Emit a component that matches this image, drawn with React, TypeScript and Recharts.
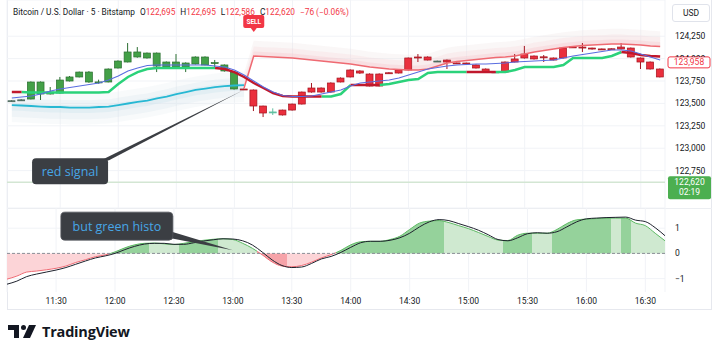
import React from 'react';
import { ComposedChart, Bar, Line, Area, XAxis, YAxis, CartesianGrid, ReferenceLine, ReferenceDot } from 'recharts';

// 5 minute bars, 11:05 .. 16:40
const times = [
  '11:05', '11:10', '11:15', '11:20', '11:25', '11:30', '11:35', '11:40', '11:45', '11:50', '11:55', '12:00',
  '12:05', '12:10', '12:15', '12:20', '12:25', '12:30', '12:35', '12:40', '12:45', '12:50', '12:55', '13:00',
  '13:05', '13:10', '13:15', '13:20', '13:25', '13:30', '13:35', '13:40', '13:45', '13:50', '13:55', '14:00',
  '14:05', '14:10', '14:15', '14:20', '14:25', '14:30', '14:35', '14:40', '14:45', '14:50', '14:55', '15:00',
  '15:05', '15:10', '15:15', '15:20', '15:25', '15:30', '15:35', '15:40', '15:45', '15:50', '15:55', '16:00',
  '16:05', '16:10', '16:15', '16:20', '16:25', '16:30', '16:35', '16:40',
];
const timeTicks = ['11:30', '12:00', '12:30', '13:00', '13:30', '14:00', '14:30', '15:00', '15:30', '16:00', '16:30'];

const opens = [
  123530, 123535, 123549, 123739, 123605, 123616, 123750, 123795, 123850, 123740,
  123739, 123895, 123962, 124074, 124007, 124062, 123906, 123962, 123906, 123940,
  124018, 123955, 123929, 123850, 123661, 123650, 123471, 123400, 123371, 123426,
  123493, 123627, 123672, 123627, 123739, 123795, 123862, 123828, 123694, 123842,
  123839, 123873, 124018, 124018, 123973, 123984, 123952, 123951, 123929, 123884,
  123852, 123850, 123962, 124007, 124029, 124020, 124007, 124007, 124131, 124129,
  124118, 124108, 124110, 124107, 124118, 124007, 123962, 123884,
];
const highs = [
  123535, 123548, 123745, 123745, 123683, 123795, 123806, 123855, 123860, 123765,
  123890, 123980, 124174, 124129, 124068, 124068, 123968, 124051, 123958, 124025,
  124025, 123985, 123935, 123855, 123665, 123655, 123475, 123445, 123430, 123498,
  123632, 123728, 123678, 123735, 123790, 123880, 123870, 123835, 123835, 123848,
  123880, 124012, 124051, 124025, 123978, 123990, 123955, 123955, 123935, 123890,
  123856, 123968, 124051, 124141, 124035, 124040, 124012, 124124, 124135, 124174,
  124122, 124112, 124114, 124174, 124124, 124012, 123968, 123890,
];
const lows = [
  123520, 123530, 123545, 123538, 123600, 123610, 123745, 123790, 123730, 123720,
  123735, 123890, 123958, 124010, 124000, 123850, 123900, 123900, 123850, 123935,
  123925, 123906, 123855, 123655, 123650, 123415, 123348, 123371, 123365, 123420,
  123488, 123620, 123620, 123620, 123735, 123790, 123830, 123690, 123690, 123833,
  123835, 123868, 123962, 123980, 123965, 123884, 123940, 123935, 123890, 123845,
  123840, 123845, 123958, 124000, 123990, 123962, 123980, 124000, 124122, 124074,
  124100, 124100, 124100, 124102, 124012, 123884, 123878, 123790,
];
const closes = [
  123525, 123540, 123739, 123605, 123627, 123761, 123795, 123850, 123739, 123735,
  123884, 123973, 124074, 124018, 124062, 123917, 123962, 123906, 123951, 124018,
  123929, 123950, 123862, 123661, 123655, 123471, 123393, 123405, 123426, 123493,
  123627, 123672, 123627, 123728, 123783, 123873, 123839, 123694, 123828, 123838,
  123873, 124007, 124014, 123984, 123970, 123962, 123948, 123940, 123895, 123850,
  123848, 123962, 123996, 124051, 123996, 124016, 123984, 124118, 124127, 124118,
  124107, 124105, 124106, 124129, 124018, 123962, 123884, 123795,
];
// candle colour comes from the signal, not from the bar direction
const candleTone = [
  'n', 'n', 'g', 'g', 'g', 'g', 'g', 'g', 'g', 'g', 'g', 'g', 'g', 'g', 'g', 'g', 'g', 'g', 'g', 'g', 'g', 'g', 'g', 'g',
  'r', 'r', 'r', 't', 'r', 'r', 'r', 'r', 'r', 'r', 'r', 'r', 'r', 'r', 'r', 'r', 'r', 'r', 'r', 'r', 'n', 'r', 'r', 'r',
  'r', 'r', 'n', 'r', 'r', 'r', 'r', 'r', 'r', 'r', 'r', 'r', 'r', 'r', 'r', 'r', 'r', 'r', 'r', 'r',
];

const upperBand = [
  null, null, null, null, null, null, null, null, null, null, null, null,
  null, null, null, null, null, null, null, null, null, null, null, null,
  123672, 124029, 124023, 124018, 124012, 124007, 123996, 123984, 123973, 123962, 123951, 123940,
  123923, 123906, 123895, 123884, 123878, 123873, 123873, 123884, 123917, 123951, 123968, 123979,
  123990, 124001, 124012, 124018, 124029, 124051, 124074, 124090, 124107, 124124, 124135, 124146,
  124152, 124157, 124163, 124163, 124157, 124152, 124141, 124135,
];
const lowerBand = [
  123482, 123477, 123471, 123465, 123460, 123460, 123454, 123454, 123454, 123460, 123465, 123482,
  123499, 123516, 123532, 123555, 123577, 123605, 123627, 123650, 123666, 123683, 123694, 123700,
  123705, null, null, null, null, null, null, null, null, null, null, null,
  null, null, null, null, null, null, null, null, null, null, null, null,
  null, null, null, null, null, null, null, null, null, null, null, null,
  null, null, null, null, null, null, null, null,
];
const trail = [
  123627, 123627, 123622, 123622, 123622, 123622, 123622, 123622, 123622, 123622, 123627, 123717,
  123795, 123850, 123884, 123895, 123895, 123895, 123895, 123895, 123895, 123895, 123884, 123850,
  123795, 123728, 123672, 123616, 123583, 123577, 123577, 123577, 123577, 123577, 123605, 123705,
  123705, 123705, 123705, 123717, 123739, 123761, 123772, 123839, 123850, 123850, 123850, 123850,
  123850, 123850, 123850, 123850, 123873, 123906, 123906, 123906, 123906, 123929, 124007, 124007,
  124007, 124007, 124029, 124074, 124062, 124040, 124029, 124023,
];
const trailTone = [
  'r', 'r', 'g', 'g', 'g', 'g', 'g', 'g', 'g', 'g', 'g', 'g', 'g', 'g', 'g', 'g', 'g', 'g', 'g', 'g', 'g', 'g', 'r', 'r',
  'r', 'r', 'r', 'r', 'r', 'r', 'r', 'r', 'r', 'g', 'g', 'g', 'r', 'r', 'r', 'g', 'g', 'g', 'g', 'g', 'g', 'g', 'g', 'g',
  'r', 'r', 'r', 'g', 'g', 'g', 'g', 'g', 'g', 'g', 'g', 'g', 'g', 'g', 'g', 'g', 'r', 'r', 'r', 'r',
];
const maLine = [
  123560, 123571, 123583, 123605, 123638, 123661, 123677, 123694, 123711, 123728, 123761, 123806,
  123862, 123895, 123923, 123929, 123929, 123929, 123929, 123929, 123929, 123917, 123906, 123873,
  123817, 123750, 123683, 123627, 123588, 123577, 123577, 123583, 123605, 123627, 123650, 123694,
  123728, 123739, 123750, 123761, 123783, 123817, 123850, 123884, 123901, 123917, 123929, 123934,
  123940, 123940, 123945, 123951, 123962, 123968, 123973, 123979, 123984, 124007, 124029, 124046,
  124062, 124079, 124096, 124096, 124085, 124051, 124018, 123984,
];
const priceTicks = [122750, 123000, 123250, 123500, 123750, 124000, 124250];

const histo = [
  -1.02, -0.9, -0.74, -0.7, -0.65, -0.59, -0.5, -0.36, -0.25, -0.13, -0.06, 0.06,
  0.22, 0.34, 0.4, 0.41, 0.38, 0.35, 0.4, 0.46, 0.52, 0.56, 0.58, 0.55,
  0.4, 0.2, -0.06, -0.34, -0.5, -0.53, -0.48, -0.35, -0.18, -0.05, 0.12, 0.34,
  0.46, 0.48, 0.48, 0.55, 0.68, 0.95, 1.2, 1.28, 1.3, 1.22, 1.1, 0.98,
  0.83, 0.67, 0.53, 0.51, 0.72, 0.8, 0.8, 0.8, 0.95, 1.18, 1.33, 1.36,
  1.38, 1.4, 1.4, 1.4, 1.2, 1.1, 0.8, 0.5,
];
const signal = [
  -1.22, -1.1, -0.92, -0.82, -0.74, -0.66, -0.56, -0.43, -0.3, -0.18, -0.1, 0.0,
  0.15, 0.28, 0.37, 0.4, 0.4, 0.36, 0.36, 0.42, 0.49, 0.54, 0.58, 0.57,
  0.5, 0.33, 0.05, -0.26, -0.48, -0.56, -0.54, -0.4, -0.22, -0.12, 0.04, 0.24,
  0.42, 0.48, 0.48, 0.52, 0.62, 0.8, 1.05, 1.25, 1.34, 1.3, 1.18, 1.06,
  0.92, 0.74, 0.55, 0.5, 0.62, 0.78, 0.82, 0.8, 0.86, 1.05, 1.25, 1.37,
  1.4, 1.42, 1.43, 1.44, 1.32, 1.26, 1.02, 0.7,
];
// G / R = growing, g / r = fading
const histoTone = [
  'r', 'r', 'r', 'r', 'r', 'r', 'r', 'r', 'r', 'r', 'r', 'G', 'G', 'G', 'G', 'g', 'g', 'g', 'G', 'G', 'G', 'G', 'g', 'g',
  'g', 'g', 'R', 'R', 'R', 'r', 'r', 'r', 'r', 'r', 'G', 'G', 'G', 'G', 'G', 'G', 'G', 'G', 'G', 'G', 'G', 'g', 'g', 'g',
  'g', 'g', 'g', 'G', 'G', 'G', 'g', 'g', 'G', 'G', 'G', 'G', 'G', 'G', 'g', 'G', 'g', 'g', 'g', 'g',
];
const histoTicks = [-1, 0, 1];

const candleColors: Record<string, { fill: string; edge: string }> = {
  g: { fill: '#43a047', edge: '#2b6e31' },
  r: { fill: '#ea2f3d', edge: '#a3141f' },
  n: { fill: '#4d6b5f', edge: '#4d6b5f' },
  t: { fill: '#5fbfa0', edge: '#5fbfa0' },
};
const shadeFill: Record<string, string> = { G: '#95d29b', g: '#cfe9d0', R: '#f6a3a9', r: '#fcd4d7' };
const shadeEdge: Record<string, string> = { G: '#5cb862', g: '#5cb862', R: '#ef6b74', r: '#ef6b74' };

const FONT = 'Roboto, "Noto Sans", sans-serif';
const axisTick = { fontSize: 8.5, fill: '#131722', fontFamily: FONT };

const priceRows = times.map((t, i) => {
  const u = upperBand[i];
  const lo = lowerBand[i];
  return {
    t,
    open: opens[i],
    high: highs[i],
    low: lows[i],
    close: closes[i],
    tone: candleTone[i],
    upper: u,
    lower: lo,
    ma: maLine[i],
    trailGreen: trailTone[i] === 'g' || trailTone[i + 1] === 'g' ? trail[i] : null,
    trailRed: trailTone[i] === 'r' || trailTone[i + 1] === 'r' ? trail[i] : null,
    glowUp1: u == null ? null : [u, u + 50],
    glowUp2: u == null ? null : [u, u + 105],
    glowUp3: u == null ? null : [u, u + 170],
    glowLo1: lo == null ? null : [lo - 60, lo + 25],
    glowLo2: lo == null ? null : [lo - 130, lo + 80],
    glowLo3: lo == null ? null : [lo - 190, lo + 150],
  };
});

const histoRows = times.map((t, i) => ({ t, histo: histo[i], signal: signal[i] }));

const last = times.length - 1;
const hardStops = (palette: Record<string, string>) =>
  histoTone.flatMap((tone, i) => [
    { offset: Math.max(0, (i - 0.5) / last), color: palette[tone] },
    { offset: Math.min(1, (i + 0.5) / last), color: palette[tone] },
  ]);

const Candle = (props: any) => {
  const { x, y, width, height, payload } = props;
  if (!payload) return null;
  const top = Math.min(y, y + height);
  const h = Math.abs(height);
  const k = h / (payload.high - payload.low);
  const bodyTop = top + (payload.high - Math.max(payload.open, payload.close)) * k;
  const bodyH = Math.max(1, Math.abs(payload.open - payload.close) * k);
  const c = candleColors[payload.tone];
  const mid = x + width / 2;
  return (
    <g>
      <line x1={mid} x2={mid} y1={top} y2={top + h} stroke={c.edge} strokeWidth={1} />
      <rect x={x} y={bodyTop} width={width} height={bodyH} fill={c.fill} stroke={c.edge} strokeWidth={0.7} />
    </g>
  );
};

// price axis labels; the last-price tag hides the lower half of 124,000, as on the original
const PriceTick = (props: any) => {
  const { x, y, payload } = props;
  const v = payload.value;
  const label = v.toLocaleString('en-US');
  if (v === 124000) {
    return (
      <g>
        <clipPath id="price-tick-124000">
          <rect x={x - 2} y={y - 10} width={52} height={8.3} />
        </clipPath>
        <text x={x} y={y} dy="0.355em" fontSize={8.5} fontFamily={FONT} fill="#131722" clipPath="url(#price-tick-124000)">
          {label}
        </text>
      </g>
    );
  }
  return (
    <text x={x} y={y} dy="0.355em" fontSize={8.5} fontFamily={FONT} fill="#131722">
      {label}
    </text>
  );
};

const LastTag = (props: any) => {
  const vb = props.viewBox;
  const x = vb.x + vb.width + 3;
  return (
    <g>
      <rect x={x} y={vb.y - 5.5} width={42} height={11} rx={2} fill="#fff" stroke="#f23645" strokeWidth={1} />
      <text x={x + 21} y={vb.y + 3} textAnchor="middle" fontSize={8.5} fontFamily={FONT} fill="#f23645">
        123,958
      </text>
    </g>
  );
};

const LiveTag = (props: any) => {
  const vb = props.viewBox;
  const x = vb.x + vb.width + 3;
  return (
    <g>
      <rect x={x} y={vb.y - 6} width={43} height={23} rx={2} fill="#4caf50" />
      <text x={x + 21.5} y={vb.y + 2.5} textAnchor="middle" fontSize={8.5} fontFamily={FONT} fill="#fff">
        122,620
      </text>
      <text x={x + 21.5} y={vb.y + 13} textAnchor="middle" fontSize={8.5} fontFamily={FONT} fill="#fff">
        02:19
      </text>
    </g>
  );
};

const SellTag = (props: any) => {
  const vb = props.viewBox;
  const cx = vb.x;
  const top = vb.y + 15;
  return (
    <g>
      <rect x={cx - 10.5} y={top} width={21} height={13} rx={2} fill="#f23645" />
      <path d={`M${cx - 3},${top + 13} L${cx},${top + 17} L${cx + 3},${top + 13} Z`} fill="#f23645" />
      <text x={cx} y={top + 9} textAnchor="middle" fontSize={6.5} fontWeight={700} fontFamily={FONT} fill="#fff">
        SELL
      </text>
    </g>
  );
};

const calloutFill = '#3b3e43';
const calloutText = '#47a6e6';

const RedSignalNote = (props: any) => {
  const { cx, cy } = props;
  if (cx == null || cy == null) return null;
  const bx = cx - 212;
  const by = cy + 68;
  return (
    <g>
      <path d={`M${cx - 1},${cy} L${cx - 135},${by + 2} L${cx - 147},${by + 4} Z`} fill={calloutFill} />
      <rect x={bx} y={by} width={76} height={26} rx={4} fill={calloutFill} />
      <text x={bx + 38} y={by + 17.5} textAnchor="middle" fontSize={12.5} fontFamily='"Open Sans", sans-serif' fill={calloutText}>
        red signal
      </text>
    </g>
  );
};

const GreenHistoNote = (props: any) => {
  const { cx, cy } = props;
  if (cx == null || cy == null) return null;
  const bx = cx - 172;
  const by = cy - 38;
  return (
    <g>
      <path d={`M${cx},${cy} L${cx - 66},${cy - 20} L${cx - 62},${cy - 12} Z`} fill={calloutFill} />
      <rect x={bx} y={by} width={112} height={28} rx={4} fill={calloutFill} stroke="#55585e" strokeWidth={0.8} />
      <text x={bx + 56} y={by + 18.5} textAnchor="middle" fontSize={12.5} fontFamily='"Open Sans", sans-serif' fill={calloutText}>
        but green histo
      </text>
    </g>
  );
};

const fmtOsc = (v: number) => (v < 0 ? `\u2212${Math.abs(v)}` : `${v}`);

const red = '#f23645';

const App: React.FC = () => {
  const fillStops = hardStops(shadeFill);
  const edgeStops = hardStops(shadeEdge);
  return (
    <div style={{ position: 'absolute', left: 0, top: 0, width: 720, height: 354, background: '#fff', overflow: 'hidden', fontFamily: FONT }}>
      <div style={{ position: 'absolute', left: 7, top: 0, width: 705, height: 310, border: '1px solid #e6e8ee', borderTop: 'none', boxSizing: 'border-box' }} />
      <div style={{ position: 'absolute', left: 7, top: 208, width: 705, height: 1, background: '#eceef2' }} />

      <div style={{ position: 'absolute', left: 0, top: 0 }}>
        <ComposedChart width={720} height={208} data={priceRows} margin={{ top: 0, right: 0, bottom: 0, left: 7 }}>
          <CartesianGrid stroke="#f1f3f7" />
          <XAxis dataKey="t" hide ticks={timeTicks} />
          <YAxis
            orientation="right"
            width={55}
            domain={[122333, 124654]}
            ticks={priceTicks}
            interval={0}
            axisLine={false}
            tickLine={false}
            tickSize={0}
            tickMargin={10}
            tick={<PriceTick />}
            allowDataOverflow
          />
          <ReferenceLine y={122620} stroke="#d3e6d3" strokeWidth={1.5} label={(p: any) => <LiveTag {...p} />} />

          <Area dataKey="glowLo3" stroke="none" fill="#dde8ee" fillOpacity={0.22} isAnimationActive={false} />
          <Area dataKey="glowLo2" stroke="none" fill="#d3e5ec" fillOpacity={0.25} isAnimationActive={false} />
          <Area dataKey="glowLo1" stroke="none" fill="#c3e0ea" fillOpacity={0.3} isAnimationActive={false} />
          <Area dataKey="glowUp3" stroke="none" fill="#eadfe0" fillOpacity={0.25} isAnimationActive={false} />
          <Area dataKey="glowUp2" stroke="none" fill="#f5cdd0" fillOpacity={0.22} isAnimationActive={false} />
          <Area dataKey="glowUp1" stroke="none" fill="#f7b9be" fillOpacity={0.25} isAnimationActive={false} />

          <Bar dataKey={(d: any) => [d.low, d.high]} barSize={7} shape={<Candle />} isAnimationActive={false} />

          <Line dataKey="lower" stroke="#27b8d3" strokeWidth={1.8} dot={false} activeDot={false} isAnimationActive={false} />
          <Line dataKey="upper" stroke="#ef6a72" strokeWidth={1.5} dot={false} activeDot={false} isAnimationActive={false} />
          <Line dataKey="trailGreen" stroke="#2bd27a" strokeWidth={2.5} dot={false} activeDot={false} isAnimationActive={false} />
          <Line dataKey="trailRed" stroke="#c0182c" strokeWidth={2.5} dot={false} activeDot={false} isAnimationActive={false} />
          <Line dataKey="ma" stroke="#5a6de0" strokeWidth={1.1} dot={false} activeDot={false} isAnimationActive={false} />

          <ReferenceLine y={123958} stroke="none" label={(p: any) => <LastTag {...p} />} />
          <ReferenceLine x="13:10" stroke="none" label={(p: any) => <SellTag {...p} />} />
          <ReferenceDot x="13:05" y={123648} r={1} fill="none" stroke="none" shape={(p: any) => <RedSignalNote {...p} />} />
        </ComposedChart>
      </div>

      <div style={{ position: 'absolute', left: 0, top: 208 }}>
        <ComposedChart width={720} height={102} data={histoRows} margin={{ top: 0, right: 0, bottom: 0, left: 7 }}>
          <defs>
            <linearGradient id="histFill" x1="0" y1="0" x2="1" y2="0">
              {fillStops.map((s, i) => (
                <stop key={i} offset={s.offset} stopColor={s.color} />
              ))}
            </linearGradient>
            <linearGradient id="histEdge" x1="0" y1="0" x2="1" y2="0">
              {edgeStops.map((s, i) => (
                <stop key={i} offset={s.offset} stopColor={s.color} />
              ))}
            </linearGradient>
          </defs>
          <CartesianGrid stroke="#f1f3f7" horizontalValues={[-1, 1]} />
          <XAxis
            dataKey="t"
            ticks={timeTicks}
            height={18}
            axisLine={false}
            tickLine={false}
            tickSize={0}
            tickMargin={6}
            tick={axisTick}
            interval={0}
          />
          <YAxis
            orientation="right"
            width={55}
            domain={[-1.53, 1.8]}
            ticks={histoTicks}
            interval={0}
            tickFormatter={fmtOsc}
            axisLine={false}
            tickLine={false}
            tickSize={0}
            tickMargin={10}
            tick={axisTick}
            allowDataOverflow
          />
          <Area
            type="monotone"
            dataKey="histo"
            baseValue={0}
            fill="url(#histFill)"
            fillOpacity={1}
            stroke="url(#histEdge)"
            strokeWidth={1}
            isAnimationActive={false}
          />
          <ReferenceLine y={0} stroke="#8a8d96" strokeDasharray="3 2" strokeWidth={1} />
          <Line type="monotone" dataKey="signal" stroke="#1e222d" strokeWidth={1} dot={false} activeDot={false} isAnimationActive={false} />
          <ReferenceDot x="13:00" y={0.13} r={1} fill="none" stroke="none" shape={(p: any) => <GreenHistoNote {...p} />} />
        </ComposedChart>
      </div>

      <div style={{ position: 'absolute', left: 13, top: 6, fontSize: 8.3, color: '#131722', whiteSpace: 'nowrap', lineHeight: '12px' }}>
        Bitcoin / U.S. Dollar · 5 · Bitstamp
        <span style={{ marginLeft: 5 }}>O<span style={{ color: red }}>122,695</span></span>
        <span style={{ marginLeft: 5 }}>H<span style={{ color: red }}>122,695</span></span>
        <span style={{ marginLeft: 5 }}>L<span style={{ color: red }}>122,586</span></span>
        <span style={{ marginLeft: 5 }}>C<span style={{ color: red }}>122,620</span></span>
        <span style={{ marginLeft: 5, color: red }}>−76 (−0.06%)</span>
      </div>

      <div style={{ position: 'absolute', left: 672, top: 4, width: 38, height: 18, border: '1px solid #e0e3eb', borderRadius: 3, boxSizing: 'border-box', fontSize: 8.5, color: '#131722', textAlign: 'center', lineHeight: '16px', background: '#fff' }}>
        USD
      </div>

      <div style={{ position: 'absolute', left: 8, top: 322, display: 'flex', alignItems: 'center' }}>
        <svg width={30} height={15} viewBox="0 0 30 15">
          <path d="M0,1 H11 V14 H6 V6 H0 Z" fill="#131722" />
          <circle cx={15.5} cy={3.5} r={2.5} fill="#131722" />
          <path d="M21,1 H28 L22,14 H15 Z" fill="#131722" />
        </svg>
        <span style={{ marginLeft: 4, fontSize: 14.5, fontWeight: 700, color: '#131722', fontFamily: '"Open Sans", sans-serif', letterSpacing: -0.2 }}>
          TradingView
        </span>
      </div>
    </div>
  );
};

export default App;
